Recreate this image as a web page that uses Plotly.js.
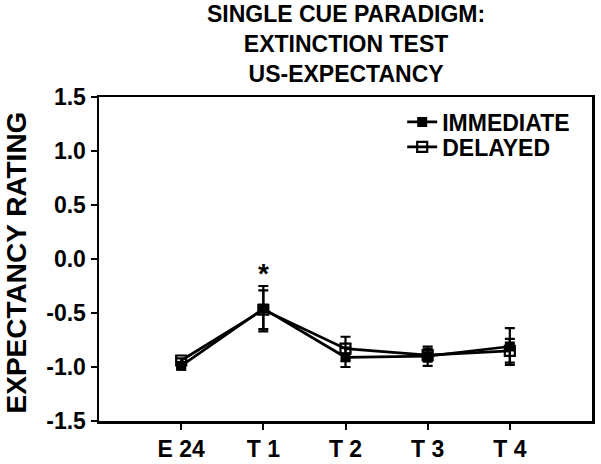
<!DOCTYPE html>
<html>
<head>
<meta charset="utf-8">
<script src="https://cdn.plot.ly/plotly-3.0.1.min.js"></script>
<style>html,body{margin:0;padding:0;background:#fff;}#chart{width:601px;height:464px;}</style>
</head>
<body>
<div id="chart"></div>
<script>
var categories = ["E 24", "T 1", "T 2", "T 3", "T 4"];
var immediateMean = [-0.99, -0.46, -0.91, -0.90, -0.81];
var immediateErr = [0.02, 0.21, 0.09, 0.09, 0.17];
var delayedMean = [-0.94, -0.47, -0.83, -0.89, -0.85];
var delayedErr = [0.02, 0.18, 0.11, 0.06, 0.11];
var yTicks = [-1.5, -1.0, -0.5, 0.0, 0.5, 1.0, 1.5];
var yTickText = ["-1.5", "-1.0", "-0.5", "0.0", "0.5", "1.0", "1.5"];
var titleLines = ["SINGLE CUE PARADIGM:", "EXTINCTION TEST", "US-EXPECTANCY"];

var FF = '"Liberation Sans", Arial, Helvetica, sans-serif';

var delayed = {
  x: categories, y: delayedMean, name: "DELAYED", type: "scatter", mode: "lines+markers",
  legend: "legend2",
  line: {color: "#000", width: 2.7},
  marker: {symbol: "square-open", size: 10, color: "#000", line: {color: "#000", width: 2.2}},
  error_y: {type: "data", array: delayedErr, visible: true, color: "#000", thickness: 2.2, width: 5}
};
var immediate = {
  x: categories, y: immediateMean, name: "IMMEDIATE", type: "scatter", mode: "lines+markers",
  legend: "legend",
  line: {color: "#000", width: 2.7},
  marker: {symbol: "square", size: 10, color: "#000"},
  error_y: {type: "data", array: immediateErr, visible: true, color: "#000", thickness: 2.2, width: 5}
};

var legFont = {family: FF, size: 23, color: "#000", weight: 700};
var layout = {
  width: 601, height: 464,
  margin: {l: 99, r: 9, t: 97, b: 43, pad: 0},
  paper_bgcolor: "#fff", plot_bgcolor: "#fff",
  font: {family: FF, size: 22, color: "#000", weight: 700},
  showlegend: true,
  legend: {x: 0.615, y: (421 - 122) / 324, xanchor: "left", yanchor: "middle",
    font: legFont, bgcolor: "rgba(0,0,0,0)", itemwidth: 30, borderwidth: 0},
  legend2: {x: 0.615, y: (421 - 147) / 324, xanchor: "left", yanchor: "middle",
    font: legFont, bgcolor: "rgba(0,0,0,0)", itemwidth: 30, borderwidth: 0},
  xaxis: {
    type: "category", categoryorder: "array", categoryarray: categories,
    range: [-1, 5], showgrid: false, zeroline: false,
    showline: true, linecolor: "#000", linewidth: 2.5, mirror: true,
    ticks: "outside", ticklen: 6, tickwidth: 2, tickcolor: "#000",
    tickfont: {family: FF, size: 23, color: "#000", weight: 700}, fixedrange: true
  },
  yaxis: {
    range: [-1.5, 1.5], tickvals: yTicks, ticktext: yTickText,
    showgrid: false, zeroline: false,
    showline: true, linecolor: "#000", linewidth: 2.5, mirror: true,
    ticks: "outside", ticklen: 6, tickwidth: 2, tickcolor: "#000",
    tickfont: {family: FF, size: 23, color: "#000", weight: 700}, fixedrange: true
  },
  annotations: [
    {text: titleLines.join("<br>"), xref: "paper", yref: "paper",
     x: 0.5, y: (421 + 1) / 324, xanchor: "center", yanchor: "top", showarrow: false,
     align: "center", font: {family: FF, size: 23, color: "#000", weight: 700}},
    {text: "EXPECTANCY RATING", textangle: -90, xref: "paper", yref: "paper",
     x: -0.168, y: 0.49, xanchor: "center", yanchor: "middle", showarrow: false,
     font: {family: FF, size: 28, color: "#000", weight: 700}},
    {text: "*", xref: "x", yref: "y", x: "T 1", y: -0.13, showarrow: false,
     xanchor: "center", yanchor: "middle",
     font: {family: FF, size: 28, color: "#000", weight: 700}}
  ]
};

Plotly.newPlot("chart", [immediate, delayed], layout, {displayModeBar: false, staticPlot: true});
</script>
</body>
</html>
